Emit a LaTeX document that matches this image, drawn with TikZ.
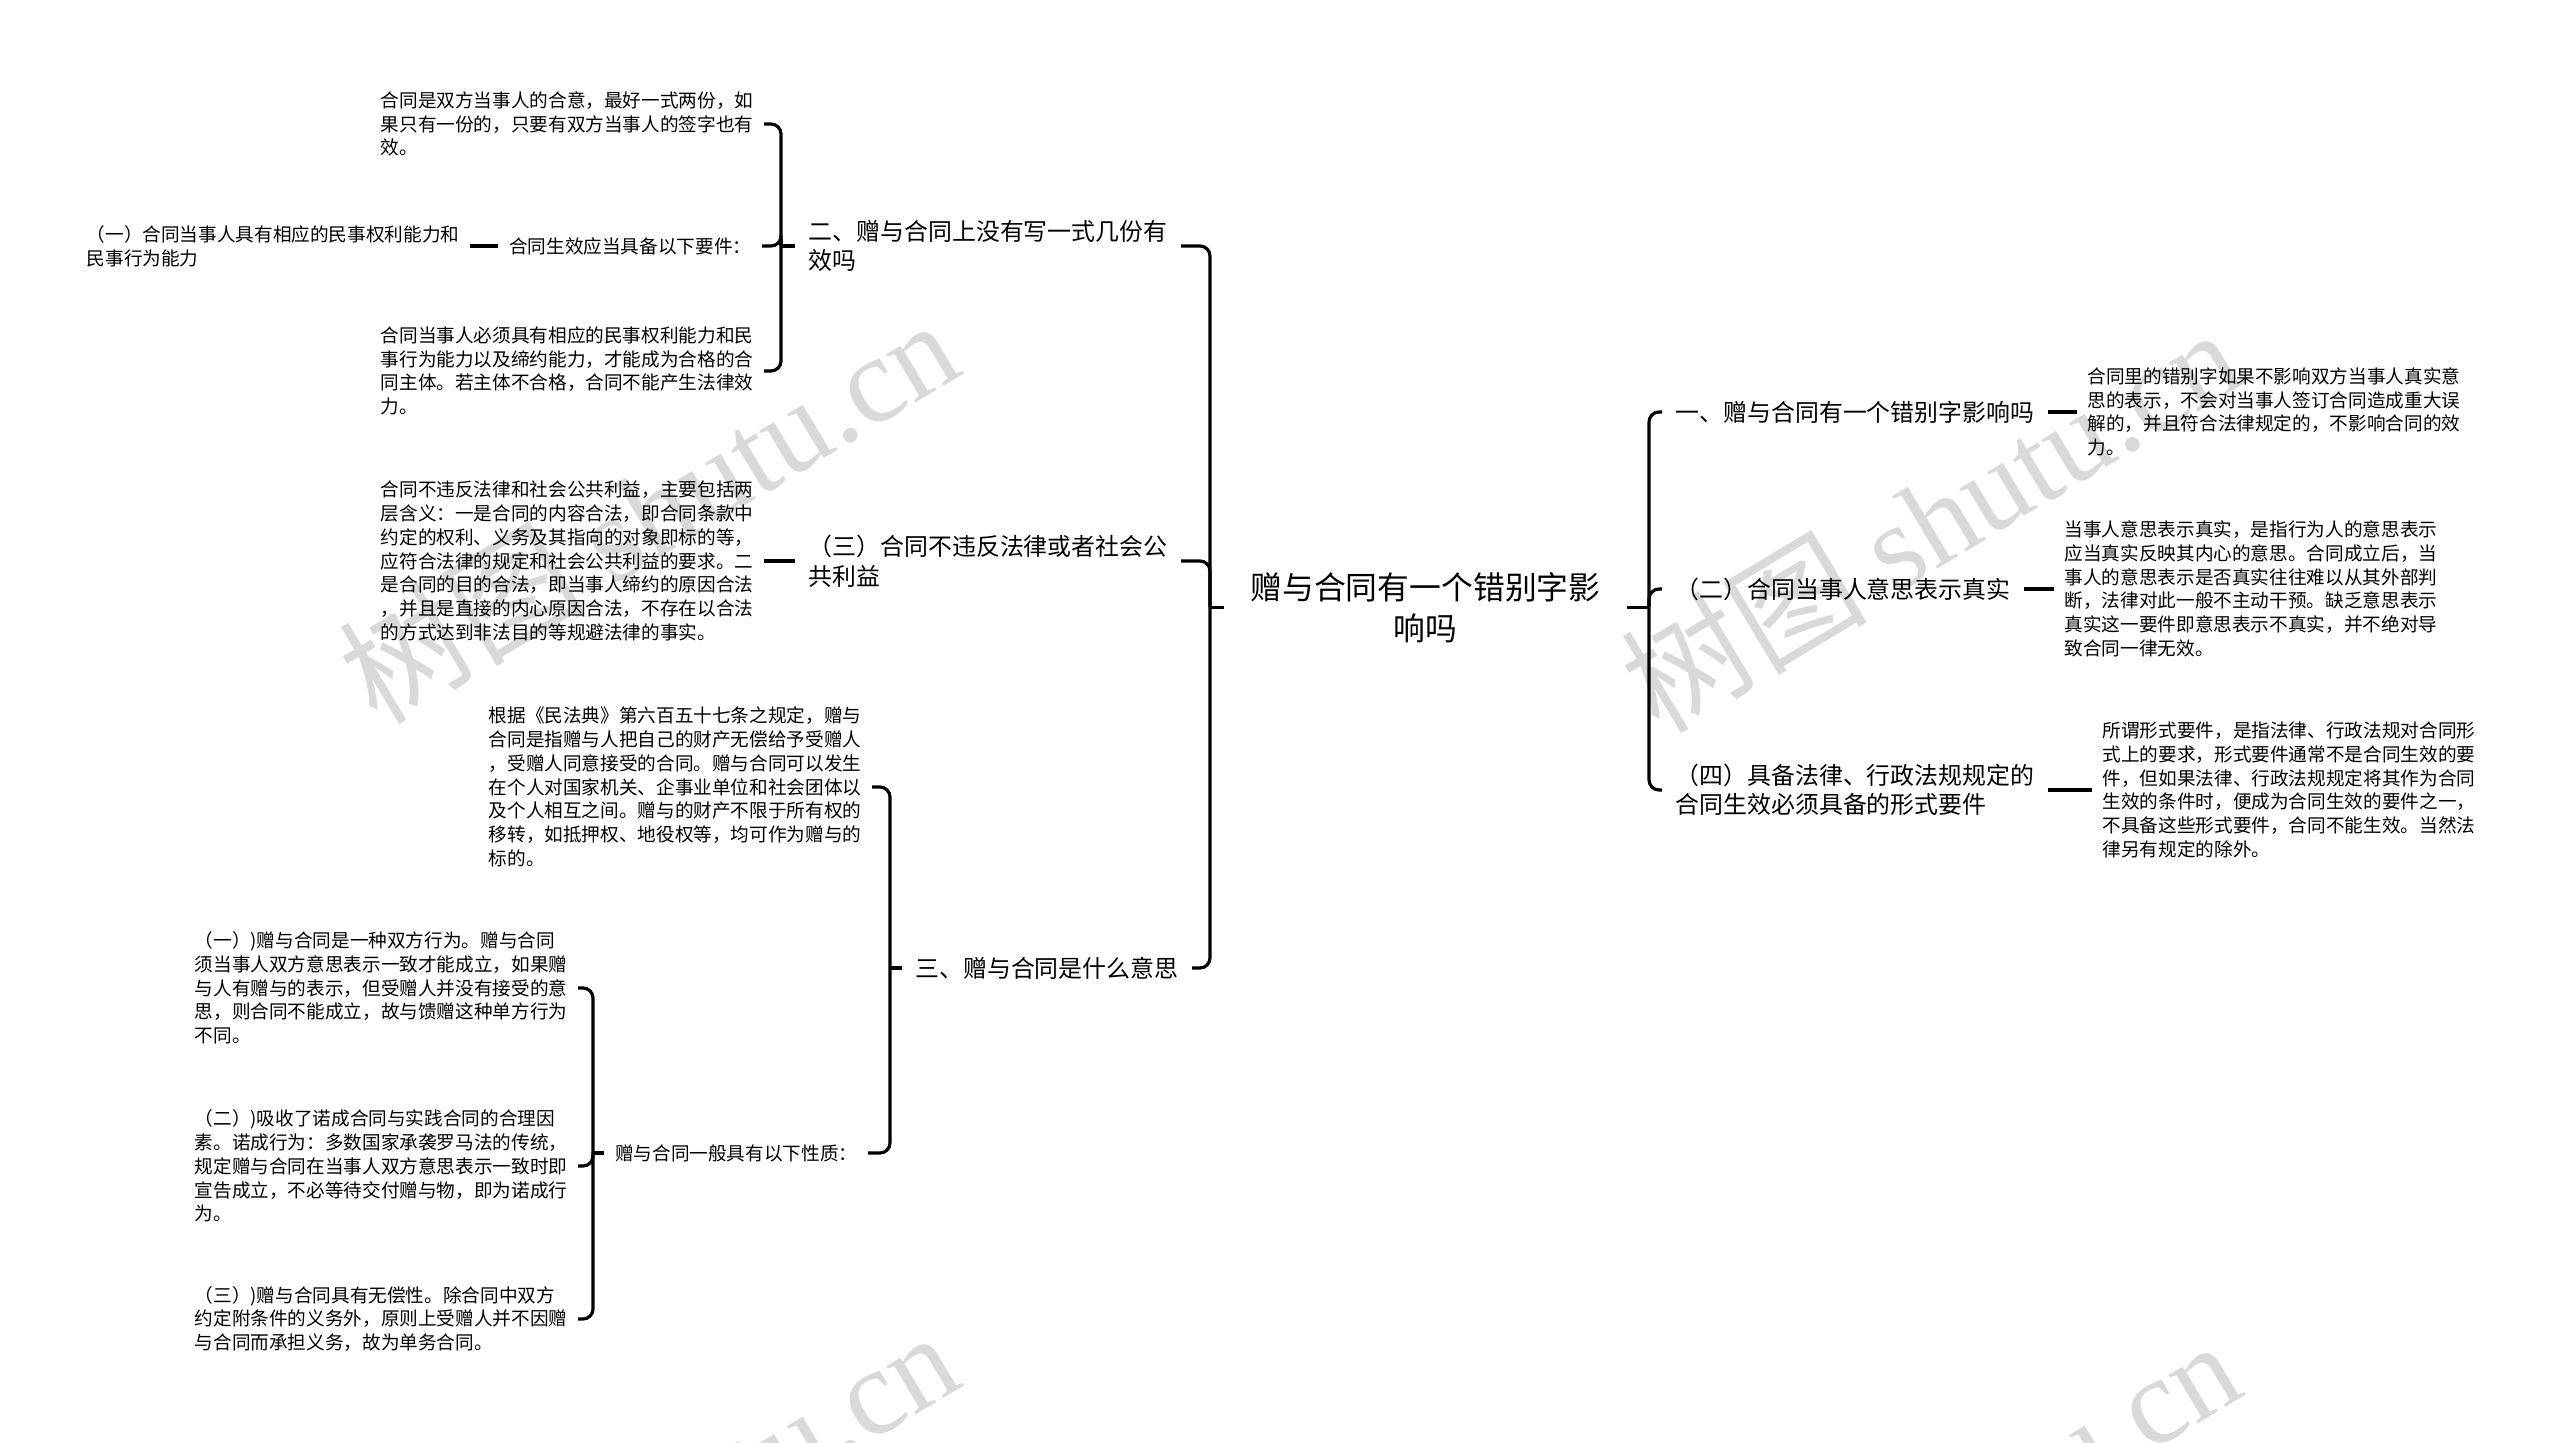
\documentclass[tikz,border=0pt]{standalone}
\usepackage{fontspec}
\setmainfont{Noto Sans CJK SC}
\newfontfamily\wmserif{Liberation Serif}
\definecolor{wmgray}{HTML}{D9D9D9}
\tikzset{
	rootnode/.style={font=\fontsize{9.05pt}{11.6pt}\selectfont, align=center, inner xsep=2.6mm, inner ysep=1mm},
	topic/.style={font=\fontsize{6.8pt}{8.4pt}\selectfont, align=left, inner xsep=1.3mm, inner ysep=0.5mm},
	leaf/.style={font=\fontsize{5.3pt}{6.75pt}\selectfont, align=left, inner xsep=1mm, inner ysep=0.5mm},
	wire/.style={line width=0.9pt, rounded corners=1mm},
	watermark/.style={text=wmgray, font=\fontsize{35pt}{35pt}\selectfont, rotate=31, inner sep=0pt},
}

\begin{document}
\begin{tikzpicture}[x=0.1mm, y=-0.1mm]
	\useasboundingbox (0, 0) rectangle (2560, 1443);
	% Watermarks:
	\begin{scope}
		\clip (0, 0) rectangle (2560, 1443);
		\node[watermark] (wm1) at (648, 510){树图 {\wmserif shutu.cn}};
		\node[watermark] (wm2) at (1930, 519){树图 {\wmserif shutu.cn}};
		\node[watermark] (wm3) at (648, 1522){树图 {\wmserif shutu.cn}};
		\node[watermark] (wm4) at (1930, 1531){树图 {\wmserif shutu.cn}};
	\end{scope}
	% Nodes:
	\node[rootnode] (root) at (1425.5, 607.5){赠与合同有一个错别字影\\响吗};
	\node[topic, anchor=west] (r1) at (1662, 412){一、赠与合同有一个错别字影响吗};
	\node[topic, anchor=west] (r2) at (1662, 589){（二）合同当事人意思表示真实};
	\node[topic, anchor=west] (r3) at (1662, 790){（四）具备法律、行政法规规定的\\合同生效必须具备的形式要件};
	\node[leaf, anchor=west] (r1leaf) at (2077, 412){合同里的错别字如果不影响双方当事人真实意\\思的表示，不会对当事人签订合同造成重大误\\解的，并且符合法律规定的，不影响合同的效\\力。};
	\node[leaf, anchor=west] (r2leaf) at (2054, 589){当事人意思表示真实，是指行为人的意思表示\\应当真实反映其内心的意思。合同成立后，当\\事人的意思表示是否真实往往难以从其外部判\\断，法律对此一般不主动干预。缺乏意思表示\\真实这一要件即意思表示不真实，并不绝对导\\致合同一律无效。};
	\node[leaf, anchor=west] (r3leaf) at (2092, 790){所谓形式要件，是指法律、行政法规对合同形\\式上的要求，形式要件通常不是合同生效的要\\件，但如果法律、行政法规规定将其作为合同\\生效的条件时，便成为合同生效的要件之一，\\不具备这些形式要件，合同不能生效。当然法\\律另有规定的除外。};
	\node[topic, anchor=east] (l1) at (1181, 246){二、赠与合同上没有写一式几份有\\效吗};
	\node[topic, anchor=east] (l2) at (1181, 561){（三）合同不违反法律或者社会公\\共利益};
	\node[topic, anchor=east] (l3) at (1192, 968){三、赠与合同是什么意思};
	\node[leaf, anchor=east] (a1) at (764, 124){合同是双方当事人的合意，最好一式两份，如\\果只有一份的，只要有双方当事人的签字也有\\效。};
	\node[leaf, anchor=east] (a2) at (762, 246){合同生效应当具备以下要件：};
	\node[leaf, anchor=east] (a3) at (764, 371){合同当事人必须具有相应的民事权利能力和民\\事行为能力以及缔约能力，才能成为合格的合\\同主体。若主体不合格，合同不能产生法律效\\力。};
	\node[leaf, anchor=east] (a2x) at (470, 246){（一）合同当事人具有相应的民事权利能力和\\民事行为能力};
	\node[leaf, anchor=east] (b1) at (764, 561){合同不违反法律和社会公共利益，主要包括两\\层含义：一是合同的内容合法，即合同条款中\\约定的权利、义务及其指向的对象即标的等，\\应符合法律的规定和社会公共利益的要求。二\\是合同的目的合法，即当事人缔约的原因合法\\，并且是直接的内心原因合法，不存在以合法\\的方式达到非法目的等规避法律的事实。};
	\node[leaf, anchor=east] (c1) at (872, 787){根据《民法典》第六百五十七条之规定，赠与\\合同是指赠与人把自己的财产无偿给予受赠人\\，受赠人同意接受的合同。赠与合同可以发生\\在个人对国家机关、企事业单位和社会团体以\\及个人相互之间。赠与的财产不限于所有权的\\移转，如抵押权、地役权等，均可作为赠与的\\标的。};
	\node[leaf, anchor=east] (c2) at (868, 1153){赠与合同一般具有以下性质：};
	\node[leaf, anchor=east] (d1) at (578, 988){（一）)赠与合同是一种双方行为。赠与合同\\须当事人双方意思表示一致才能成立，如果赠\\与人有赠与的表示，但受赠人并没有接受的意\\思，则合同不能成立，故与馈赠这种单方行为\\不同。};
	\node[leaf, anchor=east] (d2) at (578, 1166){（二）)吸收了诺成合同与实践合同的合理因\\素。诺成行为：多数国家承袭罗马法的传统，\\规定赠与合同在当事人双方意思表示一致时即\\宣告成立，不必等待交付赠与物，即为诺成行\\为。};
	\node[leaf, anchor=east] (d3) at (578, 1319){（三）)赠与合同具有无偿性。除合同中双方\\约定附条件的义务外，原则上受赠人并不因赠\\与合同而承担义务，故为单务合同。};
	% Junctions:
	\coordinate (rj) at (1649, 607.5);
	\coordinate (lj) at (1210, 607.5);
	\coordinate (l1j) at (781, 246);
	\coordinate (l3j) at (890, 968);
	\coordinate (c2j) at (593, 1153);
	% Wires:
	\draw[wire] (root.east) -- (rj);
	\draw[wire] (rj) |- (r1.west);
	\draw[wire] (rj) |- (r2.west);
	\draw[wire] (rj) |- (r3.west);
	\draw[wire] (r1.east) -- (r1leaf.west);
	\draw[wire] (r2.east) -- (r2leaf.west);
	\draw[wire] (r3.east) -- (r3leaf.west);
	\draw[wire] (root.west) -- (lj);
	\draw[wire] (lj) |- (l1.east);
	\draw[wire] (lj) |- (l2.east);
	\draw[wire] (lj) |- (l3.east);
	\draw[wire] (l1.west) -- (l1j);
	\draw[wire] (l1j) |- (a1.east);
	\draw[wire] (l1j) |- (a2.east);
	\draw[wire] (l1j) |- (a3.east);
	\draw[wire] (a2.west) -- (a2x.east);
	\draw[wire] (l2.west) -- (b1.east);
	\draw[wire] (l3.west) -- (l3j);
	\draw[wire] (l3j) |- (c1.east);
	\draw[wire] (l3j) |- (c2.east);
	\draw[wire] (c2.west) -- (c2j);
	\draw[wire] (c2j) |- (d1.east);
	\draw[wire] (c2j) |- (d2.east);
	\draw[wire] (c2j) |- (d3.east);
\end{tikzpicture}
\end{document}
